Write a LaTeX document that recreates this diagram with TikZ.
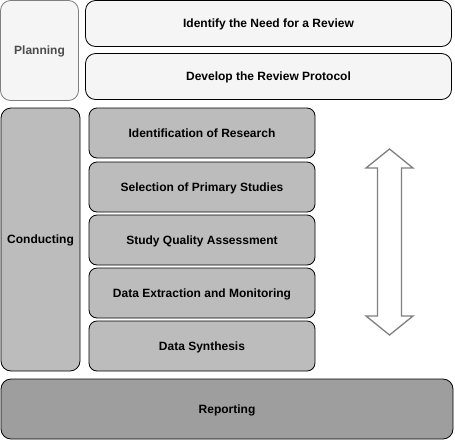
\documentclass[tikz,border=0pt]{standalone}
\usepackage{fontspec}
\setmainfont{Liberation Sans}
\usepackage{tikz}
\usetikzlibrary{positioning}
\definecolor{lightfill}{HTML}{F5F5F5}
\definecolor{midfill}{HTML}{BCBCBC}
\definecolor{darkfill}{HTML}{9E9E9E}
\definecolor{edgegray}{HTML}{7F7F7F}

\begin{document}
\begin{tikzpicture}[x=1pt,y=-1pt,line width=0.8pt,
  every node/.style={font=\bfseries\fontsize{12}{14}\selectfont, align=center, inner sep=0pt, text depth=0pt},
  phase/.style={draw, rounded corners=10pt},
  stepbox/.style={draw, rounded corners=8pt, minimum width=226pt, minimum height=50pt, fill=midfill}]
\useasboundingbox (0,0) rectangle (455,440);

\node[phase, draw=edgegray, fill=lightfill, text=black!70, minimum width=78pt, minimum height=100pt] (plan) at (39.5,50.5) {Planning};
\node[phase, fill=lightfill, minimum width=366pt, minimum height=46pt] (need) at (268.5,23.5) {Identify the Need for a Review};
\node[phase, fill=lightfill, minimum width=366pt, minimum height=46pt] (protocol) at (268.5,76.5) {Develop the Review Protocol};

\node[phase, fill=midfill, minimum width=79pt, minimum height=263pt] (conduct) at (40.5,239.5) {Conducting};
\node[stepbox] (s1) at (202,133) {Identification of Research};
\node[stepbox] (s2) at (202,187) {Selection of Primary Studies};
\node[stepbox] (s3) at (202,240) {Study Quality Assessment};
\node[stepbox] (s4) at (202,293) {Data Extraction and Monitoring};
\node[stepbox] (s5) at (202,346) {Data Synthesis};

\node[phase, fill=darkfill, minimum width=452pt, minimum height=60pt] (report) at (227,409) {Reporting};

\draw[edgegray, fill=white, line width=1.3pt, line join=miter]
  (389.5,149) -- (413,168) -- (401.5,168) -- (401.5,316) -- (413,316) -- (389.5,335)
  -- (366,316) -- (377.5,316) -- (377.5,168) -- (366,168) -- cycle;
\end{tikzpicture}
\end{document}
